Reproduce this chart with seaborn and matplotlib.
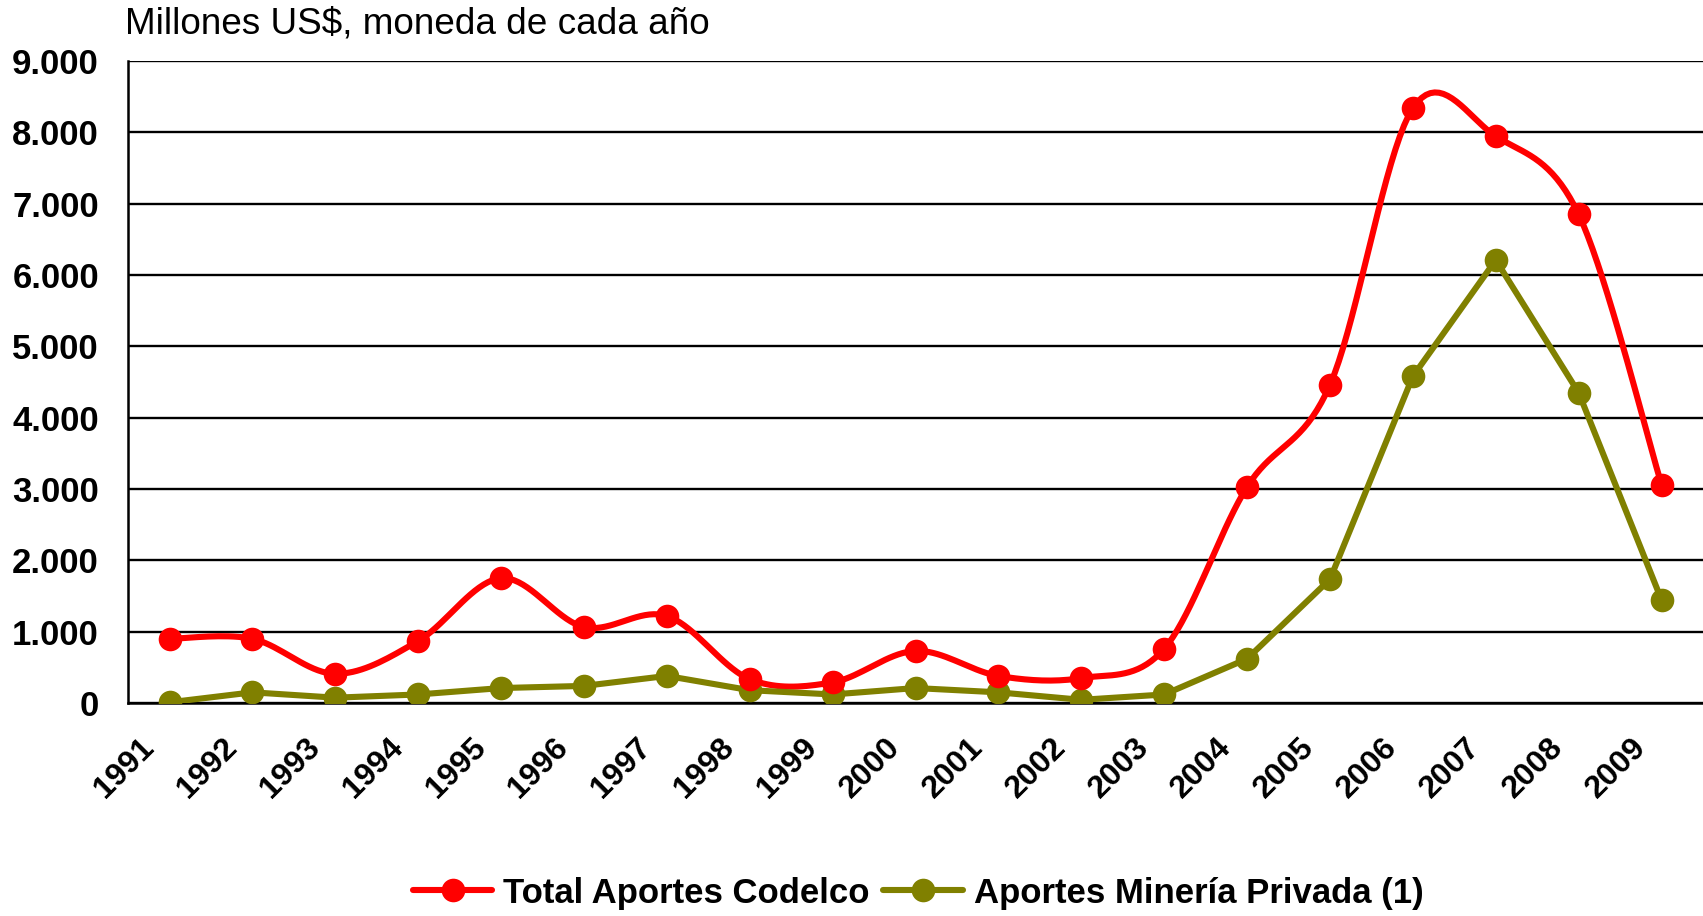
import numpy as np
import pandas as pd
import matplotlib.pyplot as plt
import matplotlib.transforms as mtransforms
import seaborn as sns
from matplotlib.lines import Line2D
from matplotlib.ticker import FuncFormatter

years = ['1991', '1992', '1993', '1994', '1995', '1996', '1997', '1998', '1999', '2000',
         '2001', '2002', '2003', '2004', '2005', '2006', '2007', '2008', '2009']
codelco = [900, 900, 410, 870, 1750, 1065, 1220, 335, 290, 730,
           380, 350, 760, 3030, 4460, 8340, 7945, 6850, 3060]
privada = [10, 150, 75, 120, 210, 240, 380, 180, 120, 210,
           150, 45, 120, 620, 1735, 4580, 6210, 4350, 1445]

RED = '#FF0000'
OLIVE = '#808000'

df = pd.DataFrame({'x': np.arange(len(years)), 'codelco': codelco, 'privada': privada})


def excel_smooth(xs, ys, n=20):
    # bezier smoothing like excel's "smoothed line"
    xs = np.asarray(xs, float)
    ys = np.asarray(ys, float)
    px = np.concatenate([[xs[0]], xs, [xs[-1]]])
    py = np.concatenate([[ys[0]], ys, [ys[-1]]])
    out_x, out_y = [], []
    t = np.linspace(0, 1, n)
    for i in range(1, len(xs)):
        p0x, p0y = px[i], py[i]
        p3x, p3y = px[i + 1], py[i + 1]
        c1x = p0x + (px[i + 1] - px[i - 1]) / 6
        c1y = p0y + (py[i + 1] - py[i - 1]) / 6
        c2x = p3x - (px[i + 2] - px[i]) / 6
        c2y = p3y - (py[i + 2] - py[i]) / 6
        bx = (1 - t) ** 3 * p0x + 3 * (1 - t) ** 2 * t * c1x + 3 * (1 - t) * t ** 2 * c2x + t ** 3 * p3x
        by = (1 - t) ** 3 * p0y + 3 * (1 - t) ** 2 * t * c1y + 3 * (1 - t) * t ** 2 * c2y + t ** 3 * p3y
        out_x.extend(bx)
        out_y.extend(by)
    return pd.DataFrame({'x': out_x, 'y': out_y})


sns.set_style('white')
plt.rcParams['font.family'] = ['Liberation Sans', 'DejaVu Sans']
plt.rcParams['text.color'] = 'black'
plt.rcParams['xtick.color'] = 'black'
plt.rcParams['ytick.color'] = 'black'

fig = plt.figure(figsize=(17.03, 9.16), dpi=100)
ax = fig.add_axes([0.0752, 0.2325, 0.9248, 0.7009])

LW = 4.4
MS = 17

smooth = excel_smooth(df['x'], df['codelco'])
sns.lineplot(data=smooth, x='x', y='y', ax=ax, color=RED, linewidth=LW, sort=False, zorder=3)
sns.lineplot(data=df, x='x', y='codelco', ax=ax, color=RED, linewidth=0,
             marker='o', markersize=MS, markeredgewidth=0, zorder=4)
sns.lineplot(data=df, x='x', y='privada', ax=ax, color=OLIVE, linewidth=LW,
             marker='o', markersize=MS, markeredgewidth=0, zorder=3)

ax.set_xlim(-0.5, len(years) - 0.5)
ax.set_ylim(0, 9000)
ax.set_yticks(np.arange(0, 9001, 1000))
ax.yaxis.set_major_formatter(FuncFormatter(lambda v, p: f'{int(v):,}'.replace(',', '.')))
ax.grid(axis='y', color='black', linewidth=1.7)
ax.set_axisbelow(True)

ax.set_xticks(np.arange(len(years)))
ax.set_xticklabels(years, rotation=45, ha='right', va='center', rotation_mode='anchor')
ax.set_xticks(np.arange(-0.5, len(years), 1), minor=True)
ax.tick_params(axis='x', which='major', length=0, pad=29, labelsize=23)
ax.tick_params(axis='x', which='minor', length=9, width=1.8, color='black', direction='out')
ax.tick_params(axis='y', length=9, width=1.8, color='black', direction='out', labelsize=25, pad=12)
shift = mtransforms.ScaledTranslation(-0.2, 0, fig.dpi_scale_trans)
for lab in ax.get_xticklabels():
    lab.set_fontweight('bold')
    lab.set_transform(lab.get_transform() + shift)
for lab in ax.get_yticklabels():
    lab.set_fontweight('bold')

for s in ['top', 'right']:
    ax.spines[s].set_visible(False)
for s in ['left', 'bottom']:
    ax.spines[s].set_color('black')
    ax.spines[s].set_linewidth(1.8)

ax.set_xlabel('')
ax.set_ylabel('')
fig.text(0.0734, 0.974, 'Millones US$, moneda de cada año', fontsize=26.6, ha='left', va='center')

handles = [
    Line2D([], [], color=RED, linewidth=LW, marker='o', markersize=MS, markeredgewidth=0),
    Line2D([], [], color=OLIVE, linewidth=LW, marker='o', markersize=MS, markeredgewidth=0),
]
fig.legend(handles, ['Total Aportes Codelco', 'Aportes Minería Privada (1)'],
           loc='center', bbox_to_anchor=(0.539, 0.025), ncol=2, frameon=False,
           prop={'weight': 'bold', 'size': 25}, handlelength=2.3, columnspacing=0.4,
           handletextpad=0.3)

fig.savefig('out.png', dpi=100)
